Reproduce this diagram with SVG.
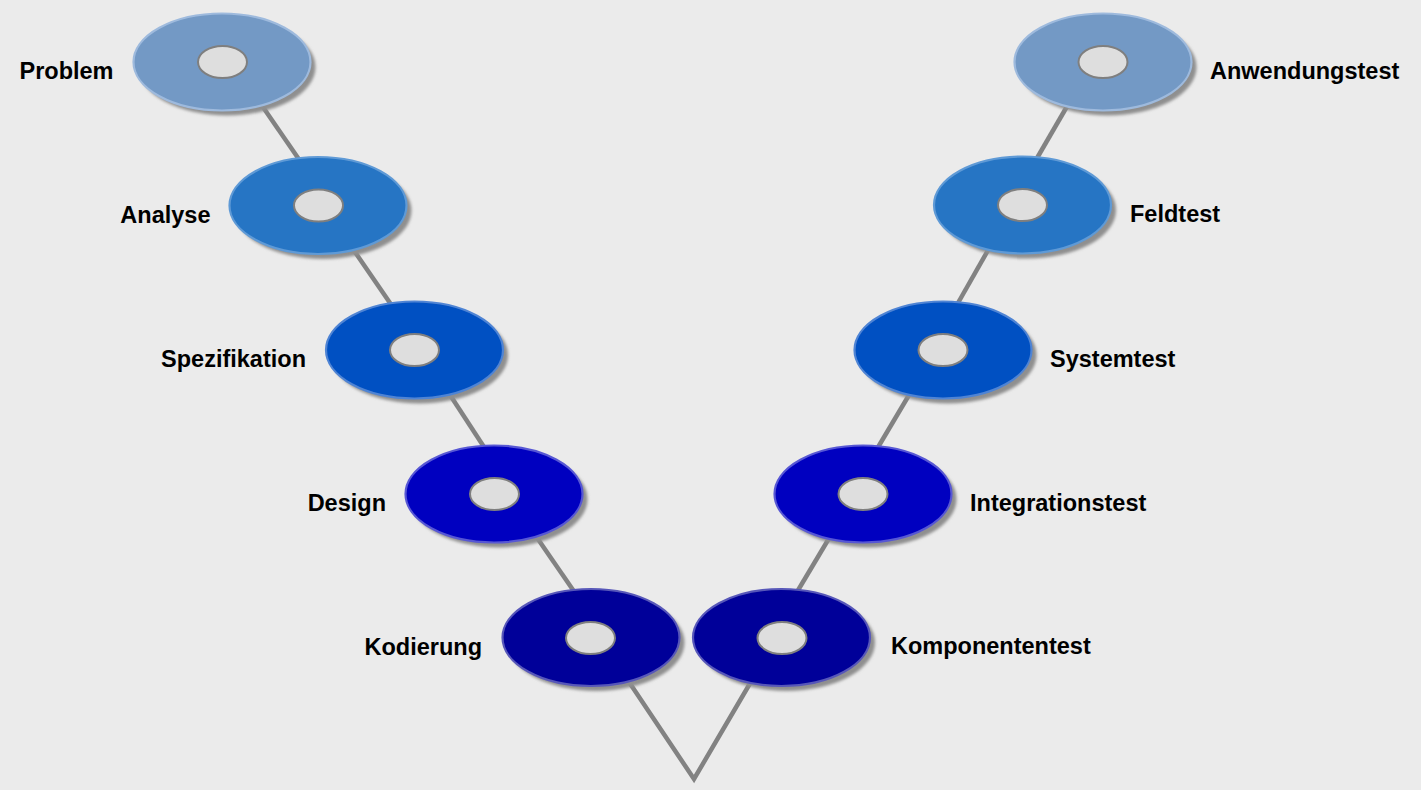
<svg xmlns="http://www.w3.org/2000/svg" width="1421" height="790" viewBox="0 0 1421 790">
<style>
.bg{fill:#ebebeb}
.con{stroke:#828282;stroke-width:4.5;fill:none;stroke-linecap:butt;stroke-linejoin:miter}
.sh{fill:#8f8f8f;filter:url(#blur)}
.disc{stroke-width:2.2}
.l1{fill:#7399c5;stroke:#9ebadd}
.l2{fill:#2675c4;stroke:#5f9ad6}
.l3{fill:#0050c2;stroke:#4f84d4}
.l4{fill:#0000c0;stroke:#5757d4}
.l5{fill:#000099;stroke:#5757b9}
.hole{fill:#dedede;stroke:#7f7f7f;stroke-width:2}
.lbl{font-family:"Liberation Sans",Arial,Helvetica,sans-serif;font-weight:bold;font-size:23.5px;fill:#000}
.end{text-anchor:end}
</style>
<defs>
<filter id="blur" x="-10%" y="-20%" width="120%" height="140%"><feGaussianBlur stdDeviation="1.6"/></filter>
<symbol id="shadow" overflow="visible"><ellipse class="sh" cx="5" cy="5" rx="88.5" ry="48.5"/></symbol>
</defs>
<rect class="bg" x="0" y="0" width="1421" height="790"/>
<g id="connectors">
<line class="con" x1="260.5" y1="103.4" x2="302.5" y2="164.6"/>
<line class="con" x1="352.5" y1="248.4" x2="394.5" y2="309.6"/>
<line class="con" x1="447.6" y1="391.3" x2="488.4" y2="453.7"/>
<line class="con" x1="535.5" y1="535.4" x2="577.5" y2="596.6"/>
<polyline class="con" points="627,679 694,779 752,680"/>
<line class="con" x1="831" y1="535" x2="794" y2="597"/>
<line class="con" x1="912" y1="390" x2="874" y2="454"/>
<line class="con" x1="991" y1="245" x2="954" y2="310"/>
<line class="con" x1="1069" y1="103" x2="1033" y2="165"/>
</g>
<g id="problem">
<use href="#shadow" x="222" y="62"/>
<ellipse class="disc l1" cx="222" cy="62" rx="88.5" ry="48.5"/>
<ellipse class="hole" cx="222.5" cy="62" rx="24.5" ry="16"/>
<text class="lbl end" x="113.5" y="79">Problem</text>
</g>
<g id="analyse">
<use href="#shadow" x="318" y="205.5"/>
<ellipse class="disc l2" cx="318" cy="205.5" rx="88.5" ry="48.5"/>
<ellipse class="hole" cx="318.5" cy="205.5" rx="24.5" ry="16"/>
<text class="lbl end" x="210.5" y="223">Analyse</text>
</g>
<g id="spezifikation">
<use href="#shadow" x="414.5" y="350"/>
<ellipse class="disc l3" cx="414.5" cy="350" rx="88.5" ry="48.5"/>
<ellipse class="hole" cx="414.5" cy="350" rx="24.5" ry="16"/>
<text class="lbl end" x="306" y="367">Spezifikation</text>
</g>
<g id="design">
<use href="#shadow" x="494" y="494"/>
<ellipse class="disc l4" cx="494" cy="494" rx="88.5" ry="48.5"/>
<ellipse class="hole" cx="494.5" cy="494" rx="24.5" ry="16"/>
<text class="lbl end" x="386" y="511">Design</text>
</g>
<g id="kodierung">
<use href="#shadow" x="591" y="637.5"/>
<ellipse class="disc l5" cx="591" cy="637.5" rx="88.5" ry="48.5"/>
<ellipse class="hole" cx="590.5" cy="638" rx="24.5" ry="16"/>
<text class="lbl end" x="482" y="655">Kodierung</text>
</g>
<g id="komponententest">
<use href="#shadow" x="781.5" y="637.5"/>
<ellipse class="disc l5" cx="781.5" cy="637.5" rx="88.5" ry="48.5"/>
<ellipse class="hole" cx="782" cy="638" rx="24.5" ry="16"/>
<text class="lbl" x="891" y="654">Komponententest</text>
</g>
<g id="integrationstest">
<use href="#shadow" x="863" y="494"/>
<ellipse class="disc l4" cx="863" cy="494" rx="88.5" ry="48.5"/>
<ellipse class="hole" cx="863" cy="494" rx="24.5" ry="16"/>
<text class="lbl" x="970" y="511">Integrationstest</text>
</g>
<g id="systemtest">
<use href="#shadow" x="943" y="350"/>
<ellipse class="disc l3" cx="943" cy="350" rx="88.5" ry="48.5"/>
<ellipse class="hole" cx="943" cy="350" rx="24.5" ry="16"/>
<text class="lbl" x="1050" y="367">Systemtest</text>
</g>
<g id="feldtest">
<use href="#shadow" x="1022.5" y="205"/>
<ellipse class="disc l2" cx="1022.5" cy="205" rx="88.5" ry="48.5"/>
<ellipse class="hole" cx="1022.5" cy="205" rx="24.5" ry="16"/>
<text class="lbl" x="1130" y="222">Feldtest</text>
</g>
<g id="anwendungstest">
<use href="#shadow" x="1103" y="62"/>
<ellipse class="disc l1" cx="1103" cy="62" rx="88.5" ry="48.5"/>
<ellipse class="hole" cx="1103" cy="62" rx="24.5" ry="16"/>
<text class="lbl" x="1210" y="79">Anwendungstest</text>
</g>
</svg>
